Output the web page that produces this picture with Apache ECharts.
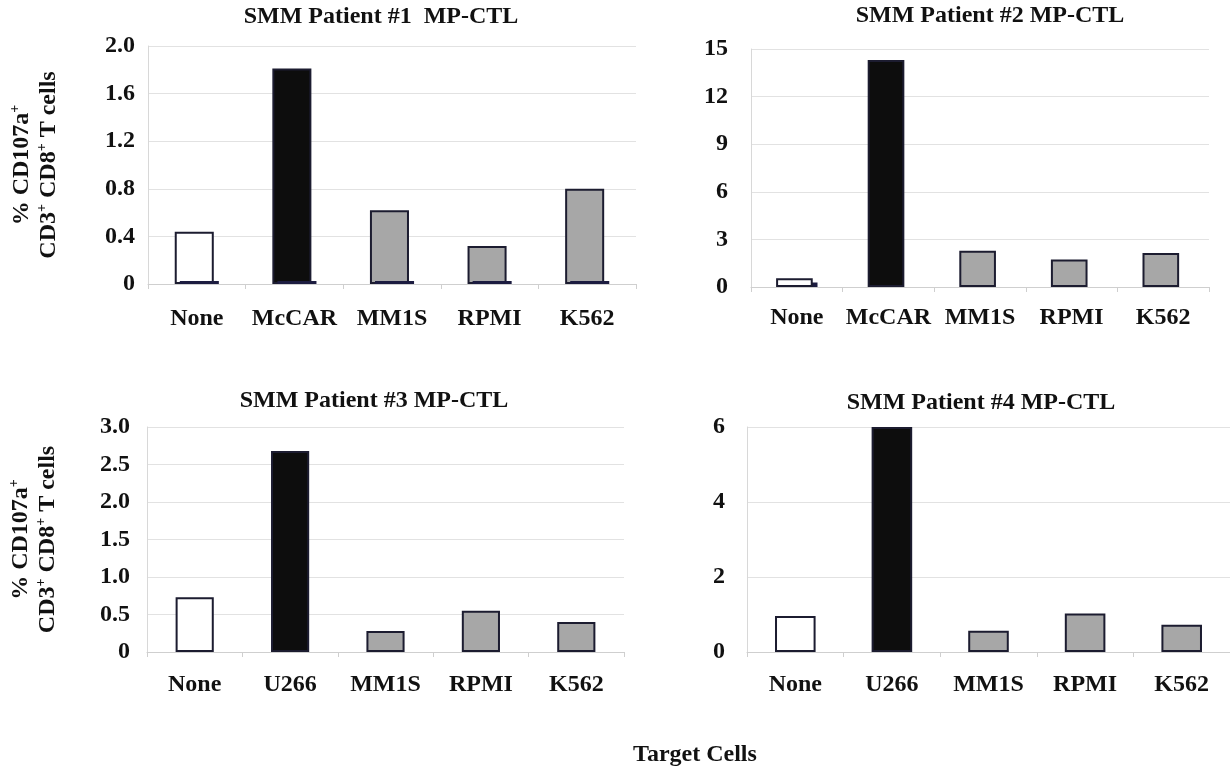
<!DOCTYPE html>
<html><head><meta charset="utf-8">
<script src="https://cdn.jsdelivr.net/npm/echarts@6/dist/echarts.min.js"></script>
<style>html,body{margin:0;padding:0;background:#fff}#c{width:1230px;height:773px}</style>
</head><body><div id="c"></div>
<script>
// ---- data ----
const titles = ['SMM Patient #1  MP-CTL', 'SMM Patient #2 MP-CTL', 'SMM Patient #3 MP-CTL', 'SMM Patient #4 MP-CTL'];
const cats1 = ['None', 'McCAR', 'MM1S', 'RPMI', 'K562'];
const cats2 = ['None', 'McCAR', 'MM1S', 'RPMI', 'K562'];
const cats3 = ['None', 'U266', 'MM1S', 'RPMI', 'K562'];
const cats4 = ['None', 'U266', 'MM1S', 'RPMI', 'K562'];
const vals1 = [0.44, 1.81, 0.62, 0.32, 0.80];
const vals2 = [0.55, 14.3, 2.29, 1.74, 2.14];
const vals3 = [0.73, 2.68, 0.28, 0.55, 0.40];
const vals4 = [0.96, 6.0, 0.57, 1.03, 0.73];
// near-zero control bars visible under / behind the main bars
const ctrl1 = [0.025, 0.025, 0.025, 0.025, 0.025];
const ctrl2 = [0.28, null, null, null, null];
const ticks1 = ['0', '0.4', '0.8', '1.2', '1.6', '2.0'];
const ticks2 = ['0', '3', '6', '9', '12', '15'];
const ticks3 = ['0', '0.5', '1.0', '1.5', '2.0', '2.5', '3.0'];
const ticks4 = ['0', '2', '4', '6'];
const yAxisTitle = ['% CD107a', '+', 'CD3', '+', ' CD8', '+', ' T cells'];
const xAxisTitle = 'Target Cells';

// ---- styling / layout ----
const FONT = 'Liberation Serif';
const barColors = ['#ffffff', '#0d0d0d', '#a7a7a7', '#a7a7a7', '#a7a7a7'];
const grids = [
  {left: 148, top: 46, width: 488, height: 238},
  {left: 751, top: 49, width: 458, height: 238},
  {left: 147, top: 427, width: 477, height: 225},
  {left: 747, top: 427, width: 484, height: 225}
];
const titlePos = [[381, 5], [990, 4], [374, 389], [981, 391]];
const cats = [cats1, cats2, cats3, cats4];
const vals = [vals1, vals2, vals3, vals4];
const ctrls = [ctrl1, ctrl2, null, null];
const ctrlZ = [5, 1, 0, 0];
const ticks = [ticks1, ticks2, ticks3, ticks4];
const yMax = [2.0, 15, 3.0, 6];
const yInt = [0.4, 3, 0.5, 2];
const xLabelMargin = [23, 19, 21, 21];
const yLabelMargin = [13, 23, 17, 22];
const barW = ['40%', '40%', '40%', '42%'];

const yName = '{a|' + yAxisTitle[0] + '}{s|' + yAxisTitle[1] + '}\n{a|' + yAxisTitle[2] + '}{s|' + yAxisTitle[3] + '}{a|' + yAxisTitle[4] + '}{s|' + yAxisTitle[5] + '}{a|' + yAxisTitle[6] + '}';
const yNameRich = {
  a: {fontFamily: FONT, fontWeight: 'bold', fontSize: 24, color: '#111', lineHeight: 27},
  s: {fontFamily: FONT, fontWeight: 'bold', fontSize: 14, color: '#111', lineHeight: 27, padding: [0, 0, 12, 0]}
};

const option = {
  animation: false,
  backgroundColor: '#fff',
  title: titles.map((t, i) => ({
    text: t, left: titlePos[i][0], top: titlePos[i][1], textAlign: 'center', padding: 0,
    textStyle: {fontFamily: FONT, fontWeight: 'bold', fontSize: 24, color: '#111'}
  })).concat([{
    text: xAxisTitle, left: 695, top: 743, textAlign: 'center', padding: 0,
    textStyle: {fontFamily: FONT, fontWeight: 'bold', fontSize: 24, color: '#111'}
  }]),
  grid: grids,
  xAxis: cats.map((c, i) => ({
    type: 'category', gridIndex: i, data: c,
    axisLine: {lineStyle: {color: '#cfcfcf', width: 1}},
    axisTick: {show: true, length: 5, lineStyle: {color: '#cfcfcf'}},
    axisLabel: {fontFamily: FONT, fontWeight: 'bold', fontSize: 24, color: '#111', margin: xLabelMargin[i], interval: 0},
    splitLine: {show: false}
  })),
  yAxis: vals.map((v, i) => ({
    type: 'value', gridIndex: i, min: 0, max: yMax[i], interval: yInt[i],
    axisLine: {show: true, lineStyle: {color: '#d8d8d8'}},
    axisTick: {show: false},
    splitLine: {lineStyle: {color: '#e2e2e2', width: 1}},
    axisLabel: {
      fontFamily: FONT, fontWeight: 'bold', fontSize: 24, color: '#111', margin: yLabelMargin[i],
      formatter: (val) => ticks[i][Math.round(val / yInt[i])]
    },
    name: (i % 2 === 0) ? yName : '',
    nameLocation: 'middle', nameRotate: 90, nameGap: 86,
    nameTextStyle: {rich: yNameRich, align: 'center'}
  })),
  series: []
};

vals.forEach((v, i) => {
  option.series.push({
    type: 'bar', xAxisIndex: i, yAxisIndex: i, z: 3,
    barWidth: barW[i], barGap: ctrls[i] ? '-87%' : '0%',
    data: v.map((y, k) => ({value: y, itemStyle: {color: barColors[k]}})),
    itemStyle: {borderColor: '#1c1c30', borderWidth: 2}
  });
  if (ctrls[i]) {
    option.series.push({
      type: 'bar', xAxisIndex: i, yAxisIndex: i, z: ctrlZ[i],
      barWidth: barW[i],
      data: ctrls[i],
      itemStyle: {color: '#1c1c40', borderWidth: 0}
    });
  }
});

const chart = echarts.init(document.getElementById('c'), null, {renderer: 'canvas'});
chart.setOption(option);
</script>
</body></html>
